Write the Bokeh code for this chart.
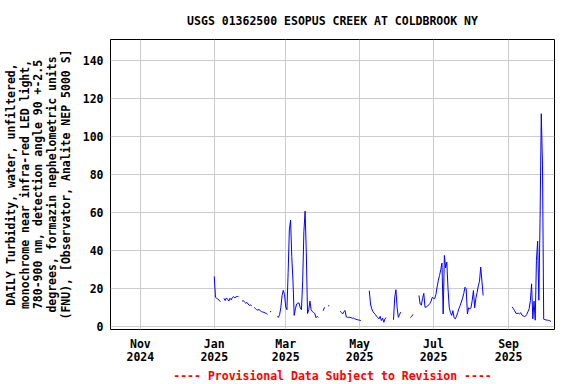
import numpy as np
import pandas as pd
from bokeh.plotting import figure
from bokeh.models import (ColumnDataSource, FixedTicker, DatetimeTickFormatter,
                          Range1d, Title)
from bokeh.embed import file_html
from bokeh.resources import INLINE

TITLE = "USGS 01362500 ESOPUS CREEK AT COLDBROOK NY"
YLABEL = ("DAILY Turbidity, water, unfiltered,\n"
          "monochrome near infra-red LED light,\n"
          "780-900 nm, detection angle 90 +-2.5\n"
          "degrees, formazin nephelometric units\n"
          "(FNU), [Observator, Analite NEP 5000 S]")
FOOTER = "---- Provisional Data Subject to Revision ----"

# tick positions / labels
x_tick_dates = ["2024-11-01", "2025-01-01", "2025-03-01", "2025-05-01", "2025-07-01", "2025-09-01"]
y_ticks = [0, 20, 40, 60, 80, 100, 120, 140]

# daily turbidity segments (start date, daily values)
seg1_start = "2025-01-01"
seg1 = [26.5, 15.5, 15.0, 14.6, 14.0, 13.2]
seg2_start = "2025-01-09"
seg2 = [15.0, 13.8, 15.2, 14.5, 13.6, 15.0, 14.2, 15.5, 15.8, 15.3, 15.8, 15.9, 16.0]
seg3_start = "2025-01-24"
seg3 = [13.5, 13.8, 13.0, 12.4, 12.8, 12.0, 11.2, 11.5, 11.0]
seg4_start = "2025-02-03"
seg4 = [10.2, 9.6, 9.0, 8.8, 9.2, 8.4, 8.0, 7.8, 7.6, 7.3, 7.0, 6.6]
seg5_start = "2025-02-16"
seg5 = [7.8, 8.2]
seg6_start = "2025-02-22"
seg6 = [5.4, 5.0, 6.5, 10.3, 16.5, 19.2, 17.0, 10.5, 9.0, 28.5, 51.0, 56.0, 37.0,
        24.0, 6.0, 9.5, 12.0, 12.5, 12.5, 10.0, 9.0, 24.0, 50.0, 60.8, 39.0, 7.0,
        9.0, 13.5, 9.0, 8.0, 7.5, 7.0, 4.8, 5.5, 5.0]
seg7_start = "2025-04-01"
seg7 = [8.5, 10.3]
seg8_start = "2025-04-05"
seg8 = [11.0, 11.2]
seg9_start = "2025-04-15"
seg9 = [8.2, 7.5, 6.8, 8.0, 8.6, 5.2, 5.0, 5.0, 5.0, 4.8, 4.5, 4.6, 4.2, 4.0, 3.8,
        3.6, 3.5, 3.3]
seg10_start = "2025-05-09"
seg10 = [19.0, 12.0, 9.5, 8.0, 7.2, 6.5, 5.5, 5.0, 4.2, 5.5, 3.3, 4.5, 2.4, 4.3, 4.8]
seg11_start = "2025-05-29"
seg11 = [3.7, 15.6, 19.5, 10.0, 5.0, 6.5, 7.7]
seg12_start = "2025-06-12"
seg12 = [4.8, 5.5, 6.5]
seg13_start = "2025-06-19"
seg13 = [16.5, 12.0, 11.4, 15.0, 17.6, 10.3, 10.4, 10.8, 11.5, 12.2, 13.5, 15.5,
         15.0, 14.8, 17.0, 21.0, 24.4, 27.0, 30.0, 33.5, 6.8, 37.5, 31.0, 34.0,
         20.0, 10.3, 7.5, 6.0, 8.5, 4.8, 4.2, 5.5, 7.5, 9.5, 11.2, 13.0, 15.0,
         17.5, 20.8, 20.0, 6.8, 10.0, 9.5, 10.0, 14.0, 19.1, 10.0, 15.0, 18.0,
         21.5, 24.0, 31.4, 24.0, 16.5]
seg14_start = "2025-09-04"
seg14 = [10.5, 9.5, 8.5, 7.2, 7.0, 7.2, 6.8, 7.4, 6.2, 5.8, 5.4, 5.6, 6.5, 8.0,
         9.5, 13.8, 22.6, 4.2, 13.5, 3.5, 35.0, 45.0, 14.0, 57.0, 112.0, 85.0,
         4.0, 3.8, 3.6, 3.5, 3.4, 3.2, 2.8]

segments = [(seg1_start, seg1), (seg2_start, seg2), (seg3_start, seg3),
            (seg4_start, seg4), (seg5_start, seg5), (seg6_start, seg6),
            (seg7_start, seg7), (seg8_start, seg8), (seg9_start, seg9),
            (seg10_start, seg10), (seg11_start, seg11), (seg12_start, seg12),
            (seg13_start, seg13), (seg14_start, seg14)]

xs, ys = [], []
for start, vals in segments:
    d = pd.date_range(start, periods=len(vals), freq="D")
    xs.extend(list(d))
    ys.extend(vals)
    xs.append(d[-1] + pd.Timedelta(hours=12))
    ys.append(np.nan)

src = ColumnDataSource(data=dict(x=pd.to_datetime(xs), y=np.array(ys, dtype=float)))

FONT = "DejaVu Sans Mono"
FS = "11.5px"

x_start = pd.Timestamp("2024-10-07 08:00")
x_end = pd.Timestamp("2025-10-08 22:00")
y_start, y_end = -1.4, 151

p = figure(frame_width=444, frame_height=290, x_axis_type="datetime",
           output_backend="svg", toolbar_location=None,
           x_range=Range1d(x_start, x_end),
           y_range=Range1d(y_start, y_end),
           min_border_left=102, min_border_right=14,
           min_border_top=31, min_border_bottom=40)

p.line("x", "y", source=src, line_color="#0000ff", line_width=1)

tick_ms = [int(pd.Timestamp(t).value // 10**6) for t in x_tick_dates]
xt = FixedTicker(ticks=tick_ms)
p.xaxis.ticker = xt
p.xgrid.ticker = xt
fmt = "%b\n%Y"
p.xaxis.formatter = DatetimeTickFormatter(
    milliseconds=fmt, seconds=fmt, minsec=fmt, minutes=fmt, hourmin=fmt,
    hours=fmt, days=fmt, months=fmt, years=fmt)
yt = FixedTicker(ticks=y_ticks)
p.yaxis.ticker = yt
p.ygrid.ticker = yt

for ax in (p.xaxis[0], p.yaxis[0]):
    ax.major_label_text_font = FONT
    ax.major_label_text_font_style = "bold"
    ax.major_label_text_font_size = FS
    ax.major_label_text_color = "black"
    ax.major_tick_out = 0
    ax.major_tick_in = 0
    ax.minor_tick_out = 0
    ax.minor_tick_in = 0
    ax.axis_line_color = None
    ax.major_label_standoff = 7

p.xaxis.major_label_text_line_height = 0.95
p.xaxis.major_label_standoff = 7

p.yaxis.axis_label = YLABEL
p.yaxis.axis_label_text_font = FONT
p.yaxis.axis_label_text_font_style = "bold"
p.yaxis.axis_label_text_font_size = FS
p.yaxis.axis_label_text_color = "black"
p.yaxis.axis_label_text_line_height = 0.98
p.yaxis.axis_label_standoff = 7

p.xgrid.grid_line_color = "#cccccc"
p.ygrid.grid_line_color = "#cccccc"
p.xgrid.grid_line_width = 1
p.ygrid.grid_line_width = 1

p.outline_line_color = "black"
p.outline_line_width = 1
p.outline_line_alpha = 1

p.title.text = TITLE
p.title.align = "center"
p.title.text_font = FONT
p.title.text_font_style = "bold"
p.title.text_font_size = FS
p.title.text_color = "black"
p.title.standoff = 23

p.add_layout(Title(text=FOOTER, align="center", text_font=FONT,
                   text_font_style="bold", text_font_size=FS,
                   text_line_height=0.8,
                   text_color="#ff0000", standoff=0), "below")

p.background_fill_color = "white"
p.border_fill_color = "white"

open("out.html", "w").write(file_html(p, INLINE))
